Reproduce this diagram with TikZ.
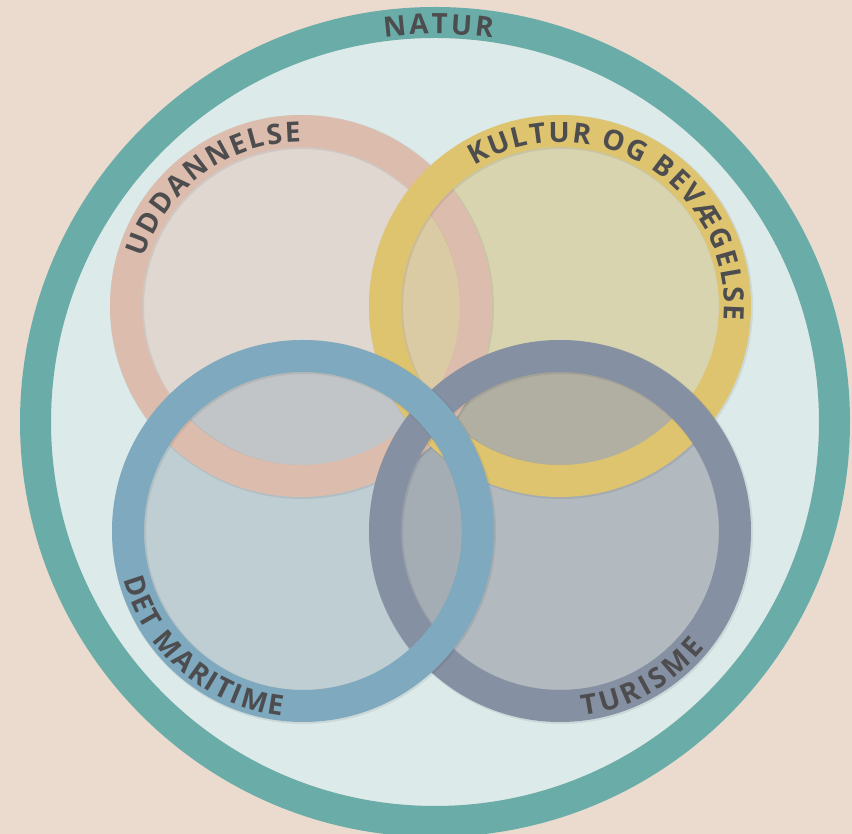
\documentclass[tikz,border=0pt]{standalone}
\usepackage{fontspec}
\setmainfont{Open Sans}
\usetikzlibrary{calc,decorations.text}

\definecolor{bgbeige}{HTML}{EBDBCF}
\definecolor{naturring}{HTML}{6AADA8}
\definecolor{naturfill}{HTML}{DCEAE9}
\definecolor{uddring}{HTML}{DCBDAD}
\definecolor{uddfill}{HTML}{E4C6BB}
\definecolor{kultring}{HTML}{DFC470}
\definecolor{kultfill}{HTML}{D8C078}
\definecolor{mariring}{HTML}{7EA9BF}
\definecolor{marifill}{HTML}{A4B4BF}
\definecolor{turring}{HTML}{8690A3}
\definecolor{turfill}{HTML}{8A8C96}
\definecolor{textgray}{HTML}{4D4D4F}

\newcommand{\ringfont}{\fontsize{28}{30}\selectfont\bfseries}

\begin{document}
\begin{tikzpicture}[x=1pt,y=1pt,
    ringfill/.style={fill=#1,fill opacity=.5},
    ring/.style={draw=#1,line width=32},
    ringshadow/.style={draw=black,draw opacity=.07,line width=34},
    ringtext/.style={decorate,decoration={text along path,
        text align=fit to path,text={|\ringfont\color{textgray}|#1}}}]
    \useasboundingbox[fill=bgbeige] (0,0) rectangle (852,834);

    \coordinate (natur) at (435,412);
    \coordinate (udd) at (301,528);
    \coordinate (kult) at (560,528);
    \coordinate (mari) at (303,303);
    \coordinate (tur) at (560,303);

    \fill[naturfill] (natur) circle[radius=384];
    \draw[naturring,line width=31] (natur) circle[radius=399.5];

    \fill[ringfill=uddfill] (udd) circle[radius=176];
    \fill[ringfill=kultfill] (kult) circle[radius=176];
    \fill[ringfill=marifill] (mari) circle[radius=176];
    \fill[ringfill=turfill] (tur) circle[radius=176];

    \foreach \c/\col in {udd/uddring,kult/kultring,tur/turring,mari/mariring}{
        \draw[ringshadow] ($(\c)+(1,-1)$) circle[radius=175];
        \draw[ring=\col] (\c) circle[radius=175];
    }

    \path[ringtext=NATUR] ($(natur)+(97.5:388)$) arc[start angle=97.5,end angle=81.5,radius=388];
    \path[ringtext=UDDANNELSE] ($(udd)+(163:164)$) arc[start angle=163,end angle=90,radius=164];
    \path[ringtext=KULTUR OG BEVÆGELSE] ($(kult)+(121.5:164)$) arc[start angle=121.5,end angle=-5,radius=164];
    \path[ringtext=DET MARITIME] ($(mari)+(195:186)$) arc[start angle=195,end angle=263.5,radius=186];
    \path[ringtext=TURISME] ($(tur)+(277:186)$) arc[start angle=277,end angle=321,radius=186];
\end{tikzpicture}
\end{document}
